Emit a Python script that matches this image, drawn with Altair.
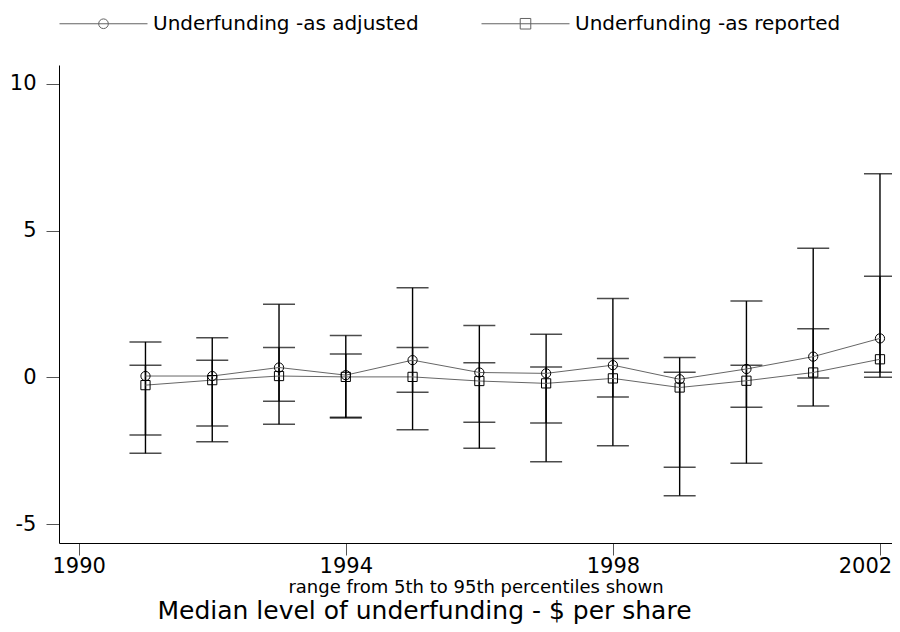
import altair as alt
import pandas as pd

# ---- data ----
years = [1991, 1992, 1993, 1994, 1995, 1996, 1997, 1998, 1999, 2000, 2001, 2002]
series_names = ["Underfunding -as adjusted", "Underfunding -as reported"]

adj_med = [0.05, 0.05, 0.34, 0.08, 0.59, 0.17, 0.14, 0.42, -0.06, 0.29, 0.71, 1.33]
adj_lo = [-2.58, -2.19, -1.59, -1.38, -1.78, -2.41, -2.87, -2.32, -4.02, -2.92, -0.97, 0.01]
adj_hi = [1.21, 1.35, 2.49, 1.43, 3.05, 1.77, 1.47, 2.69, 0.68, 2.60, 4.40, 6.93]

rep_med = [-0.26, -0.09, 0.05, 0.02, 0.02, -0.12, -0.20, -0.03, -0.34, -0.11, 0.17, 0.62]
rep_lo = [-1.96, -1.65, -0.81, -1.35, -0.50, -1.52, -1.55, -0.66, -3.05, -1.01, -0.02, 0.18]
rep_hi = [0.42, 0.59, 1.02, 0.80, 1.02, 0.50, 0.36, 0.65, 0.18, 0.42, 1.66, 3.44]

x_ticks = [1990, 1994, 1998, 2002]
y_ticks = [-5, 0, 5, 10]

rows = []
for i, yr in enumerate(years):
    rows.append(dict(series=series_names[0], year=yr, med=adj_med[i], lo=adj_lo[i], hi=adj_hi[i]))
    rows.append(dict(series=series_names[1], year=yr, med=rep_med[i], lo=rep_lo[i], hi=rep_hi[i]))
df = pd.DataFrame(rows)

FONT = "DejaVu Sans"

xscale = alt.Scale(domain=[1989.705, 2002.18], nice=False, zero=False)
yscale = alt.Scale(domain=[-5.63, 10.63], nice=False, zero=False)

x_axis = alt.Axis(values=x_ticks, format="d", tickSize=12, labelPadding=0,
                  labelFontSize=21, titleFontSize=18, titleFontWeight="normal",
                  titlePadding=2, labelFlush=False,
                  labelOffset={"condition": {"test": "datum.value == 2002", "value": -15},
                               "value": 0})
y_axis = alt.Axis(values=y_ticks, tickSize=13, labelPadding=10, labelFontSize=21,
                  labelExpr="'' + datum.value")

X = alt.X("year:Q", scale=xscale, axis=x_axis, title="range from 5th to 95th percentiles shown")

base = alt.Chart(df)

rules = base.mark_rule(color="black", strokeWidth=1.4).encode(
    x=X, y=alt.Y("lo:Q", scale=yscale, axis=y_axis, title=None), y2="hi:Q")
cap_lo = base.mark_tick(orient="horizontal", size=32, thickness=1.5, color="black").encode(
    x=X, y=alt.Y("lo:Q", scale=yscale, axis=y_axis, title=None))
cap_hi = base.mark_tick(orient="horizontal", size=32, thickness=1.5, color="black").encode(
    x=X, y=alt.Y("hi:Q", scale=yscale, axis=y_axis, title=None))
lines = base.mark_line(color="#666666", strokeWidth=1).encode(
    x=X, y=alt.Y("med:Q", scale=yscale, axis=y_axis, title=None), detail="series:N")
points = base.mark_point(filled=False, color="black", strokeWidth=1, size=85, opacity=1).encode(
    x=X, y=alt.Y("med:Q", scale=yscale, axis=y_axis, title=None),
    shape=alt.Shape("series:N", scale=alt.Scale(domain=series_names, range=["circle", "square"]),
                    legend=None))

path_circle = "M-1,0L1,0M-0.11,0A0.11,0.11,0,1,1,0.11,0A0.11,0.11,0,1,1,-0.11,0Z"
path_square = "M-1,0L1,0M-0.12,-0.12L0.12,-0.12L0.12,0.12L-0.12,0.12Z"

legend_layer = base.transform_filter("datum.year < 0").mark_point(
    filled=False, color="#222222", strokeWidth=1, size=7744).encode(
    x=X, y=alt.Y("med:Q", scale=yscale, axis=y_axis, title=None),
    shape=alt.Shape("series:N",
                    scale=alt.Scale(domain=series_names, range=[path_circle, path_square]),
                    legend=alt.Legend(title=None, orient="none", direction="horizontal",
                                      legendX=0, legendY=-86, symbolSize=7744,
                                      symbolStrokeColor="#222222", symbolFillColor="transparent",
                                      symbolStrokeWidth=1, labelFontSize=20, labelOffset=5,
                                      columnPadding=60, labelLimit=400, labelColor="black")))

chart = alt.layer(rules, cap_lo, cap_hi, lines, points, legend_layer).resolve_scale(
    shape="independent"
).properties(
    width=833, height=478,
    autosize=alt.AutoSizeParams(type="none"),
    padding={"left": 51, "top": 57, "right": 0, "bottom": 81},
    title=alt.TitleParams("Median level of underfunding - $ per share", orient="bottom",
                          anchor="middle", fontSize=25, fontWeight="normal", dx=-51,
                          offset=3, color="black", font=FONT),
).configure(font=FONT).configure_view(stroke=None).configure_axis(
    grid=False, domainColor="black", domainWidth=1, tickColor="#555555", tickWidth=1,
    labelColor="black", titleColor="black", labelFont=FONT, titleFont=FONT
).configure_legend(labelFont=FONT)

chart.save("out.html", embed_options={"renderer": "svg", "actions": False})
